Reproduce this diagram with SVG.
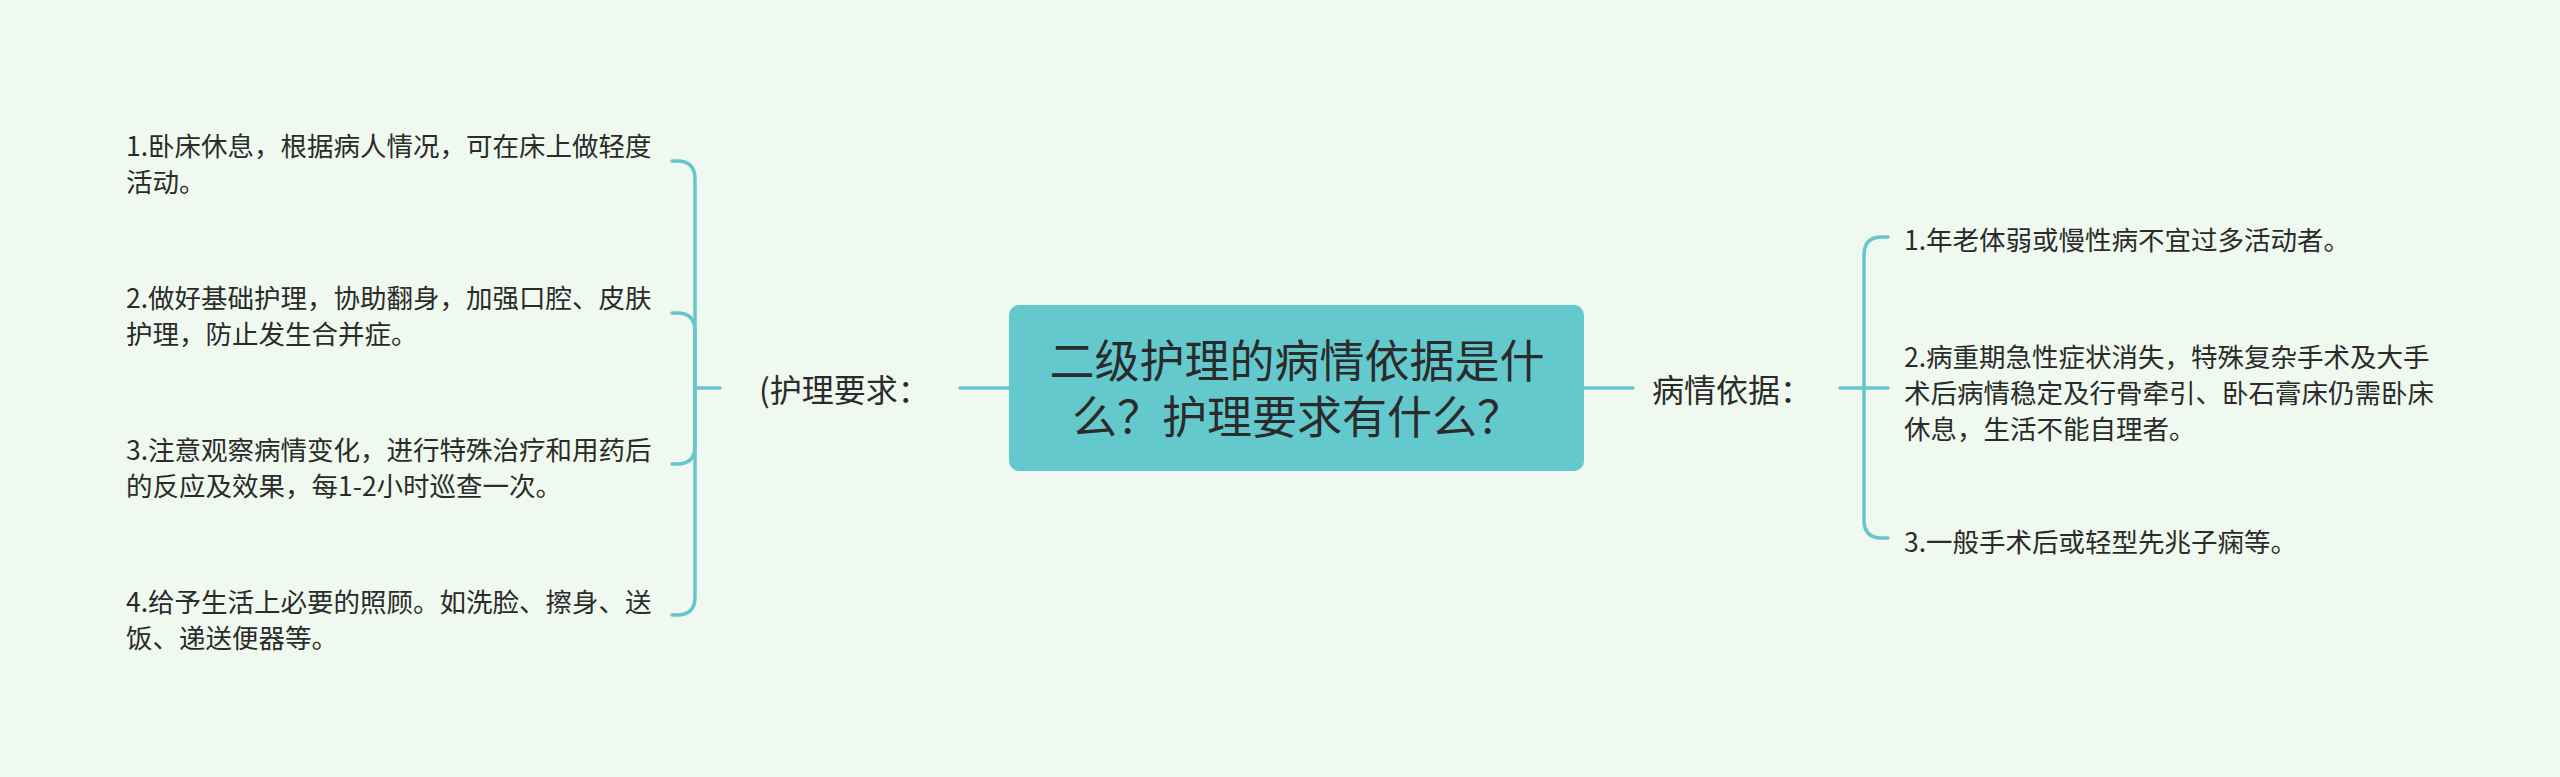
<svg xmlns="http://www.w3.org/2000/svg" width="2560" height="777" viewBox="0 0 2560 777">
<style>
text{font-family:"Noto Sans CJK SC","Noto Sans",sans-serif;fill:#2b2b2b;dominant-baseline:central}
.item{font-size:26.5px}
.label{font-size:32px}
.title{font-size:45px;text-anchor:middle}
.conn{fill:none;stroke:#66c6cb;stroke-width:3.5;stroke-linecap:round}
</style>
<rect x="0" y="0" width="2560" height="777" fill="#f0f9ef"/>
<g id="connectors">
<path class="conn" d="M960,388 H1009"/>
<path class="conn" d="M695,388 H720"/>
<path class="conn" d="M695,388 V179 Q695,161 677,161 H672"/>
<path class="conn" d="M695,388 V331 Q695,313 677,313 H672"/>
<path class="conn" d="M695,388 V446 Q695,464 677,464 H672"/>
<path class="conn" d="M695,388 V597 Q695,615 677,615 H672"/>
<path class="conn" d="M1584,388 H1633"/>
<path class="conn" d="M1840,388 H1888"/>
<path class="conn" d="M1864,388 V255 Q1864,237 1882,237 H1888"/>
<path class="conn" d="M1864,388 V520 Q1864,538 1882,538 H1888"/>
</g>
<g id="center">
<rect x="1009" y="305" width="575" height="166" rx="10" fill="#64c9cc"/>
<text class="title" x="1297" y="358">二级护理的病情依据是什</text>
<text class="title" x="1297" y="414">么？护理要求有什么？</text>
</g>
<g id="label-left">
<text class="label" x="759" y="388">(护理要求：</text>
</g>
<g id="label-right">
<text class="label" x="1652" y="388">病情依据：</text>
</g>
<g id="left-1">
<text class="item" x="126" y="144">1.卧床休息，根据病人情况，可在床上做轻度</text>
<text class="item" x="126" y="180">活动。</text>
</g>
<g id="left-2">
<text class="item" x="126" y="296">2.做好基础护理，协助翻身，加强口腔、皮肤</text>
<text class="item" x="126" y="332">护理，防止发生合并症。</text>
</g>
<g id="left-3">
<text class="item" x="126" y="448">3.注意观察病情变化，进行特殊治疗和用药后</text>
<text class="item" x="126" y="484">的反应及效果，每1-2小时巡查一次。</text>
</g>
<g id="left-4">
<text class="item" x="126" y="600">4.给予生活上必要的照顾。如洗脸、擦身、送</text>
<text class="item" x="126" y="636">饭、递送便器等。</text>
</g>
<g id="right-1">
<text class="item" x="1904" y="238">1.年老体弱或慢性病不宜过多活动者。</text>
</g>
<g id="right-2">
<text class="item" x="1904" y="355">2.病重期急性症状消失，特殊复杂手术及大手</text>
<text class="item" x="1904" y="391">术后病情稳定及行骨牵引、卧石膏床仍需卧床</text>
<text class="item" x="1904" y="427">休息，生活不能自理者。</text>
</g>
<g id="right-3">
<text class="item" x="1904" y="540">3.一般手术后或轻型先兆子痫等。</text>
</g>
</svg>
